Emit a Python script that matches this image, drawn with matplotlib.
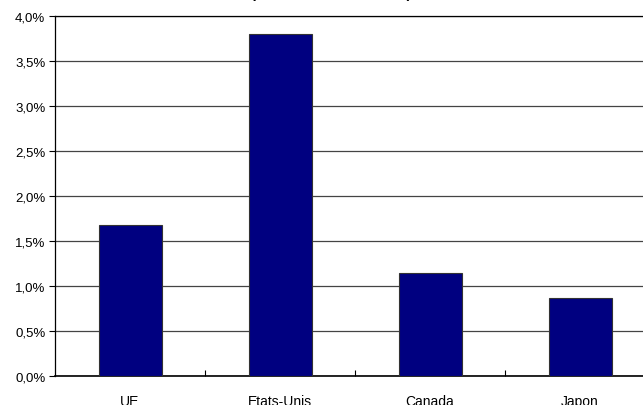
import matplotlib
matplotlib.use('Agg')
import matplotlib.pyplot as plt
from matplotlib.ticker import FuncFormatter, MultipleLocator

plt.rcParams['font.family'] = ['Liberation Sans', 'DejaVu Sans']

pays = ['UE', 'Etats-Unis', 'Canada', 'Japon']
croissance = [1.68, 3.80, 1.15, 0.87]

fig = plt.figure(figsize=(6.43, 4.06), dpi=100)
# axes runs past the right edge, as in the original
ax = fig.add_axes([55/643, (406-377)/406, 600/643, 360/406])

x = list(range(len(pays)))
ax.bar(x, croissance, width=0.42, color='#000080', edgecolor='#333333', linewidth=0.8, zorder=3)

ax.set_xlim(-0.5, len(pays) - 0.5)
ax.set_ylim(0, 4.0)
ax.yaxis.set_major_locator(MultipleLocator(0.5))
ax.yaxis.set_major_formatter(FuncFormatter(lambda v, p: ('%.1f%%' % v).replace('.', ',')))
ax.grid(axis='y', color='#444444', linewidth=0.9, zorder=0)

ax.set_xticks(x)
ax.set_xticklabels(pays, fontsize=10)
ax.tick_params(axis='x', length=0, pad=13)
ax.set_xticks([i + 0.5 for i in x[:-1]], minor=True)
ax.tick_params(axis='x', which='minor', direction='in', length=4, width=0.8)
ax.tick_params(axis='y', labelsize=9.5, length=4, width=0.8, pad=3)

ax.spines['right'].set_visible(False)
ax.spines['top'].set_linewidth(0.9)
ax.spines['left'].set_linewidth(0.9)
ax.spines['bottom'].set_linewidth(1.2)

# title cut off at the top of the picture
fig.text(331/643, 1.0 + 1.5/406, '(croissance 1991-2001)', ha='center', va='baseline',
         fontsize=10.5, fontweight='bold')

fig.savefig('out.png', dpi=100)
